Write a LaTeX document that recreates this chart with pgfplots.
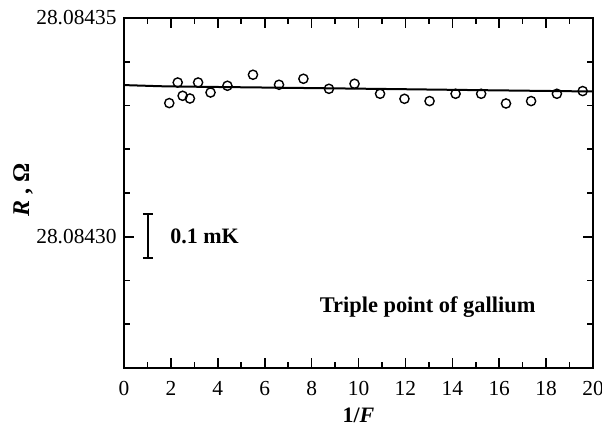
\documentclass[border=0pt]{standalone}
\usepackage{fontspec}
\setmainfont{Liberation Serif}
\usepackage{pgfplots}
\pgfplotsset{compat=1.18}

% R is stored as (R - 28.08430 Ohm) in units of 1e-5 Ohm,
% since the FPU cannot separate 28.08430 from 28.08435.
\begin{document}
\fontsize{10.5}{12.6}\selectfont
\begin{tikzpicture}
\begin{axis}[
    scale only axis, width=234.5pt, height=175pt,
    xmin=0, xmax=20, ymin=-3, ymax=5,
    xtick={0,2,...,20}, minor x tick num=1,
    ytick={0,5}, yticklabels={28.08430,28.08435},
    minor ytick={-3,-2,-1,1,2,3,4},
    tick align=inside,
    major tick length=5pt, minor tick length=3pt,
    every tick/.style={black, line width=0.8pt},
    axis line style={line width=1pt},
    /pgf/number format/assume math mode=true,
    tick label style={font=\fontsize{10.7}{12.6}\selectfont},
    xticklabel style={yshift=-3pt},
    xlabel={\textbf{1/\textit{F}}},
    ylabel={\textbf{\textit{R} , Ω}},
    label style={font=\fontsize{11}{13}\selectfont},
    xlabel style={at={(axis description cs:0.5,0)}, anchor=center, yshift=-23.5pt},
    ylabel style={at={(axis description cs:-0.2154,0.51)}, anchor=center,
        font=\fontsize{12}{14}\selectfont},
]
\addplot[black, line width=1pt, mark=none, smooth] coordinates {
    (0,3.467) (1,3.450) (2,3.436) (5,3.417) (10,3.385) (15,3.352) (20,3.320)
};
\addplot[only marks, mark=o, mark size=2.3pt, mark options={black, fill=white, line width=0.7pt}] coordinates {
    (1.93,3.055) (2.29,3.526) (2.50,3.222) (2.81,3.160) (3.16,3.526)
    (3.69,3.297) (4.41,3.451) (5.50,3.703) (6.61,3.474) (7.65,3.611)
    (8.74,3.382) (9.83,3.497) (10.92,3.268) (11.96,3.153) (13.03,3.101)
    (14.14,3.268) (15.23,3.268) (16.29,3.046) (17.36,3.101) (18.46,3.268)
    (19.56,3.330)
};
% 0.1 mK scale bar: cap, stem, cap
\addplot[black, line width=0.9pt, mark=none, unbounded coords=jump, forget plot] coordinates {
    (0.81,0.52) (1.23,0.52) (nan,nan)
    (1.02,0.52) (1.02,-0.49) (nan,nan)
    (0.81,-0.49) (1.23,-0.49)
};
\node[anchor=west, inner sep=0pt, font=\fontsize{11}{13}\selectfont\bfseries] at (axis cs:1.96,0) {0.1 mK};
\node[font=\fontsize{11.2}{13}\selectfont\bfseries] at (axis cs:12.95,-1.61) {Triple point of gallium};
\end{axis}
\pgfresetboundingbox
\path ([shift={(-62pt,-28pt)}]current axis.south west) rectangle ([shift={(4.5pt,9pt)}]current axis.north east);
\end{tikzpicture}
\end{document}
